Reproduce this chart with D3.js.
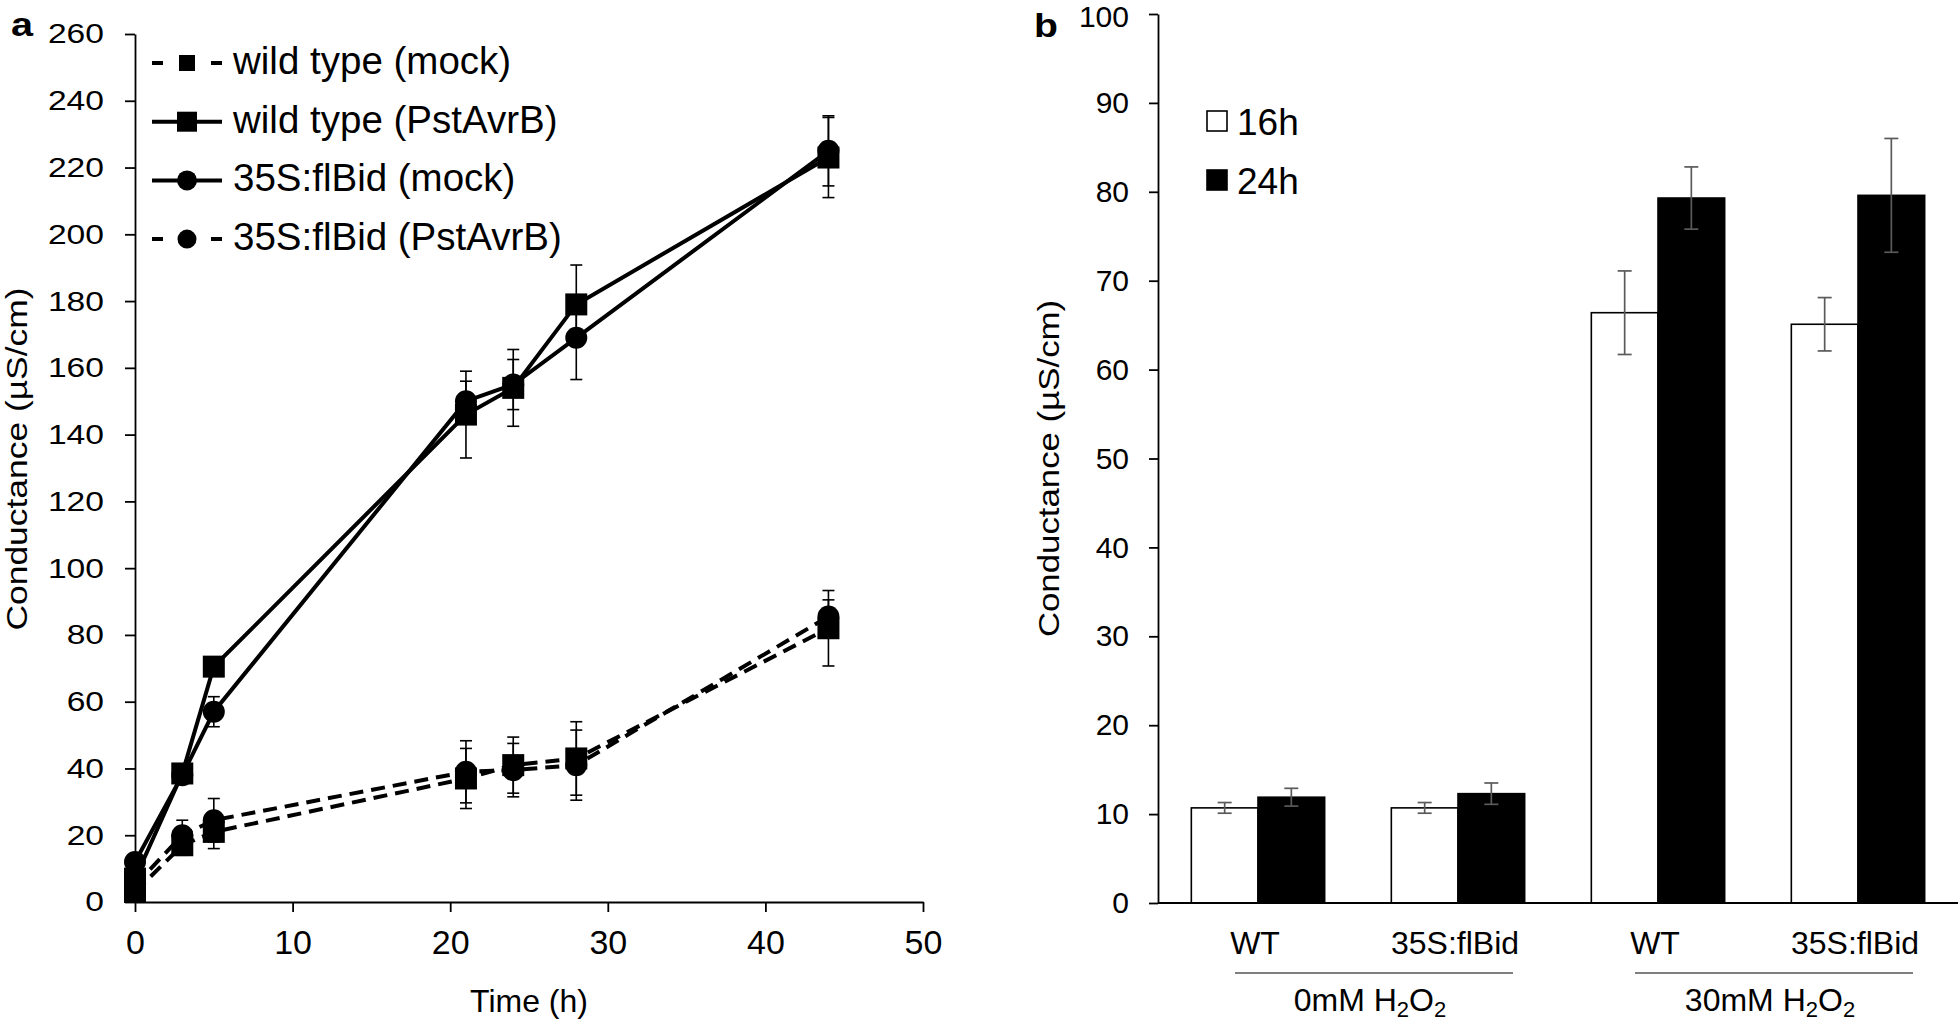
<!DOCTYPE html>
<html><head><meta charset="utf-8">
<script src="https://cdn.jsdelivr.net/npm/d3@7"></script>
<style>
html,body{margin:0;padding:0;background:#fff;}
svg text{font-family:"Liberation Sans",Arial,sans-serif;fill:#000;}
</style></head>
<body><svg id="c" width="1960" height="1024"></svg>
<script>
// ---------- Panel a data ----------
const timeH = [0, 3, 5, 21, 24, 28, 44];
const wtMock = [3, 17, 21, 37, 41, 43, 82];
const wtMockErr = [1, 3, 5, 9, 8.4, 11, 11.3];
const wtAvrB = [7, 38.5, 70.5, 146, 154, 179, 223];
const wtAvrBErr = [1, 2, 2, 13, 11.5, 11.8, 12];
const bidMock = [12, 38, 57, 150, 155, 169, 225];
const bidMockErr = [1.5, 2, 4.5, 6, 7.5, 12.5, 10.5];
const bidAvrB = [5, 20, 24.5, 39, 39.5, 41, 85.5];
const bidAvrBErr = [1, 4.5, 6.5, 9.3, 8, 10.5, 5];
const seriesNamesA = ["wild type (mock)", "wild type (PstAvrB)", "35S:flBid (mock)", "35S:flBid (PstAvrB)"];
const xTicksA = [0, 10, 20, 30, 40, 50];
const yTicksA = [0, 20, 40, 60, 80, 100, 120, 140, 160, 180, 200, 220, 240, 260];

// ---------- Panel b data ----------
const genotypes = ["WT", "35S:flBid", "WT", "35S:flBid"];
const treatments = ["0mM", "30mM"];
const h16 = [10.7, 10.7, 66.4, 65.1];
const h16Err = [0.6, 0.6, 4.7, 3.0];
const h24 = [11.9, 12.3, 79.3, 79.6];
const h24Err = [1.0, 1.2, 3.5, 6.4];
const legendB = ["16h", "24h"];
const yTicksB = [0, 10, 20, 30, 40, 50, 60, 70, 80, 90, 100];

const svg = d3.select("#c");
svg.append("rect").attr("width", 1960).attr("height", 1024).attr("fill", "#fff");

function stretch(sel, k) {
  sel.each(function () {
    const L = this.getComputedTextLength();
    d3.select(this).attr("textLength", L * k).attr("lengthAdjust", "spacingAndGlyphs");
  });
}

// ================= Panel a =================
const xA = d3.scaleLinear().domain([0, 50]).range([135, 923]);
const yA = d3.scaleLinear().domain([0, 260]).range([902, 34]);
const gA = svg.append("g");

const ax = gA.append("g").attr("transform", `translate(0,${yA(0)})`)
  .call(d3.axisBottom(xA).tickValues(xTicksA).tickSize(10).tickPadding(18).tickSizeOuter(0));
ax.select(".domain").attr("stroke", "#000").attr("stroke-width", 2.2);
ax.selectAll(".tick line").attr("stroke", "#000").attr("stroke-width", 1.8);
ax.selectAll(".tick text").attr("font-size", 34).attr("font-family", "Liberation Sans, Arial, sans-serif");

const ay = gA.append("g").attr("transform", `translate(${xA(0)},0)`)
  .call(d3.axisLeft(yA).tickValues(yTicksA).tickSize(10).tickPadding(21).tickSizeOuter(0));
ay.select(".domain").attr("stroke", "#000").attr("stroke-width", 1.8);
ay.selectAll(".tick line").attr("stroke", "#000").attr("stroke-width", 1.8);
ay.selectAll(".tick text").attr("font-size", 28).attr("font-family", "Liberation Sans, Arial, sans-serif");
stretch(ay.selectAll(".tick text"), 1.2);

const seriesA = [
  {name: seriesNamesA[0], v: wtMock, e: wtMockErr, dash: true, shape: "square"},
  {name: seriesNamesA[1], v: wtAvrB, e: wtAvrBErr, dash: false, shape: "square"},
  {name: seriesNamesA[2], v: bidMock, e: bidMockErr, dash: false, shape: "circle"},
  {name: seriesNamesA[3], v: bidAvrB, e: bidAvrBErr, dash: true, shape: "circle"}
];

const line = d3.line().x(d => xA(d.t)).y(d => yA(d.v));
seriesA.forEach(s => {
  const pts = timeH.map((t, i) => ({t, v: s.v[i], e: s.e[i]}));
  gA.append("path").datum(pts).attr("d", line).attr("fill", "none")
    .attr("stroke", "#000").attr("stroke-width", 4)
    .attr("stroke-dasharray", s.dash ? "14,8" : null);
  const eb = gA.append("g").attr("stroke", "#000").attr("stroke-width", 1.6);
  pts.forEach(p => {
    eb.append("line").attr("x1", xA(p.t)).attr("x2", xA(p.t)).attr("y1", yA(p.v - p.e)).attr("y2", yA(p.v + p.e));
    [p.v - p.e, p.v + p.e].forEach(yy => eb.append("line").attr("x1", xA(p.t) - 6).attr("x2", xA(p.t) + 6).attr("y1", yA(yy)).attr("y2", yA(yy)));
  });
  s.pts = pts;
});
seriesA.forEach(s => {
  s.pts.forEach(p => {
    if (s.shape === "square") {
      gA.append("rect").attr("x", xA(p.t) - 11).attr("y", yA(p.v) - 11).attr("width", 22).attr("height", 22).attr("fill", "#000");
    } else {
      gA.append("circle").attr("cx", xA(p.t)).attr("cy", yA(p.v)).attr("r", 11).attr("fill", "#000");
    }
  });
});

// legend a
const legA = gA.append("g");
const legSizes = [8, 10, 10, 9.5];
seriesA.forEach((s, i) => {
  const base = 74 + i * 58.7;
  const cy = base - 11;
  legA.append("line").attr("x1", 152).attr("x2", 222).attr("y1", cy).attr("y2", cy)
    .attr("stroke", "#000").attr("stroke-width", 4)
    .attr("stroke-dasharray", s.dash ? "11,48,11" : null);
  if (s.shape === "square") {
    legA.append("rect").attr("x", 187 - legSizes[i]).attr("y", cy - legSizes[i]).attr("width", legSizes[i] * 2).attr("height", legSizes[i] * 2).attr("fill", "#000");
  } else {
    legA.append("circle").attr("cx", 187).attr("cy", cy).attr("r", legSizes[i]).attr("fill", "#000");
  }
  legA.append("text").attr("x", 233).attr("y", base).attr("font-size", 38.5).text(s.name);
});

gA.append("text").attr("x", (xA(0) + xA(50)) / 2).attr("y", 1012).attr("text-anchor", "middle").attr("font-size", 32).text("Time (h)");
const yla = gA.append("text").attr("transform", `translate(27,${(yA(0) + yA(260)) / 2 - 9}) rotate(-90)`)
  .attr("text-anchor", "middle").attr("font-size", 29.5).text("Conductance (µS/cm)");
stretch(yla, 1.2);
const la = gA.append("text").attr("x", 11).attr("y", 36).attr("font-size", 33).attr("font-weight", "bold").text("a");
stretch(la, 1.2);

// ================= Panel b =================
const xB = d3.scaleBand().domain(d3.range(genotypes.length)).range([1158, 1958]).paddingInner(1 / 3).paddingOuter(1 / 6);
const yB = d3.scaleLinear().domain([0, 100]).range([903, 14]);
const gB = svg.append("g");

const sub = d3.scaleBand().domain([0, 1]).range([0, xB.bandwidth()]);
const barsB = [{name: legendB[0], v: h16, e: h16Err, fill: "#fff"}, {name: legendB[1], v: h24, e: h24Err, fill: "#000"}];
barsB.forEach((s, si) => {
  s.v.forEach((v, i) => {
    gB.append("rect").attr("x", xB(i) + sub(si)).attr("y", yB(v)).attr("width", sub.bandwidth()).attr("height", yB(0) - yB(v))
      .attr("fill", s.fill).attr("stroke", "#000").attr("stroke-width", 1.6);
  });
});
barsB.forEach((s, si) => {
  s.v.forEach((v, i) => {
    const cx = xB(i) + sub(si) + sub.bandwidth() / 2;
    const e = s.e[i];
    const g = gB.append("g").attr("stroke", "#5a5a5a").attr("stroke-width", 1.7);
    g.append("line").attr("x1", cx).attr("x2", cx).attr("y1", yB(v - e)).attr("y2", yB(v + e));
    [v - e, v + e].forEach(yy => g.append("line").attr("x1", cx - 7).attr("x2", cx + 7).attr("y1", yB(yy)).attr("y2", yB(yy)));
  });
});

const by = gB.append("g").attr("transform", `translate(${xB.range()[0]},0)`)
  .call(d3.axisLeft(yB).tickValues(yTicksB).tickSize(9).tickPadding(20).tickSizeOuter(0));
by.select(".domain").attr("stroke", "#000").attr("stroke-width", 1.8);
by.selectAll(".tick line").attr("stroke", "#000").attr("stroke-width", 1.8);
by.selectAll(".tick text").attr("font-size", 30).attr("font-family", "Liberation Sans, Arial, sans-serif")
  .attr("dy", d => d === 100 ? "0.42em" : "0.32em");

gB.append("line").attr("x1", xB.range()[0]).attr("x2", xB.range()[1]).attr("y1", yB(0)).attr("y2", yB(0))
  .attr("stroke", "#000").attr("stroke-width", 2.2);

genotypes.forEach((g, i) => {
  gB.append("text").attr("x", xB(i) + xB.bandwidth() / 2 - 3).attr("y", 954).attr("text-anchor", "middle").attr("font-size", 32).text(g);
});
treatments.forEach((t, k) => {
  const c1 = xB(2 * k) + xB.bandwidth() / 2, c2 = xB(2 * k + 1) + xB.bandwidth() / 2;
  gB.append("line").attr("x1", c1 - 23).attr("x2", c2 + 55).attr("y1", 973).attr("y2", 973).attr("stroke", "#555").attr("stroke-width", 1.6);
  const tx = gB.append("text").attr("x", (c1 + c2) / 2 + 12).attr("y", 1011).attr("text-anchor", "middle").attr("font-size", 32);
  tx.append("tspan").text(t + " H");
  tx.append("tspan").attr("font-size", 22).attr("dy", 6).text("2");
  tx.append("tspan").attr("dy", -6).text("O");
  tx.append("tspan").attr("font-size", 22).attr("dy", 6).text("2");
});

// legend b
barsB.forEach((s, i) => {
  const base = 135 + i * 59;
  gB.append("rect").attr("x", 1207).attr("y", base - 24).attr("width", 20).attr("height", 20)
    .attr("fill", s.fill).attr("stroke", "#000").attr("stroke-width", 1.6);
  gB.append("text").attr("x", 1237).attr("y", base).attr("font-size", 37).text(s.name);
});

const ylb = gB.append("text").attr("transform", `translate(1059,${(yB(0) + yB(100)) / 2 + 10}) rotate(-90)`)
  .attr("text-anchor", "middle").attr("font-size", 30).text("Conductance (µS/cm)");
stretch(ylb, 1.16);
const lb = gB.append("text").attr("x", 1034).attr("y", 37).attr("font-size", 34).attr("font-weight", "bold").text("b");
stretch(lb, 1.15);
</script></body></html>
